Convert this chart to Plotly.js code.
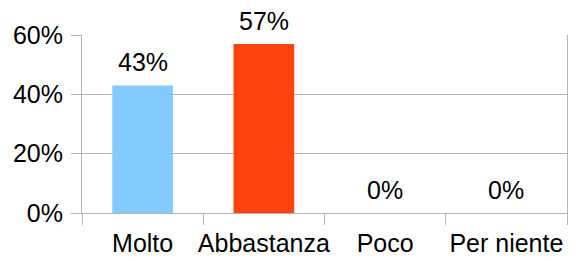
<!DOCTYPE html>
<html>
<head>
<meta charset="utf-8">
<script src="https://cdn.plot.ly/plotly-3.0.1.min.js"></script>
<style>html,body{margin:0;padding:0;background:#fff;}#chart{width:578px;height:261px;}</style>
</head>
<body>
<div id="chart"></div>
<script>
const categories = ["Molto", "Abbastanza", "Poco", "Per niente"];
const values = [0.43, 0.57, 0, 0];
const barColors = ["#83caff", "#ff420e", "#ffd320", "#579d1c"];
const yTickValues = [0, 0.2, 0.4, 0.6];

const gridColor = "#b3b3b3";
const font = {family: "Liberation Sans, Arial, sans-serif", size: 25, color: "#000"};

Plotly.newPlot("chart", [{
  type: "bar",
  x: categories,
  y: values,
  marker: {color: barColors},
  width: 0.5,
  cliponaxis: false,
  hoverinfo: "none"
}], {
  width: 578, height: 261,
  margin: {l: 82, r: 11, t: 35, b: 48, pad: 0},
  paper_bgcolor: "#fff", plot_bgcolor: "#fff",
  font: font,
  showlegend: false,
  annotations: categories.map((c, i) => ({
    x: c, y: values[i], xref: "x", yref: "y",
    text: Math.round(values[i] * 100) + "%",
    showarrow: false, yanchor: "bottom", xanchor: "center",
    yshift: 7, font: font
  })),
  xaxis: {
    type: "category",
    showline: true, linecolor: gridColor, linewidth: 1,
    ticks: "outside", tickson: "boundaries", ticklen: 11, tickcolor: gridColor,
    showgrid: false, zeroline: false,
    tickangle: 0, automargin: false,
    ticklabelstandoff: 8,
    tickfont: font
  },
  yaxis: {
    range: [0, 0.6],
    tickvals: yTickValues, tickformat: ".0%",
    showline: true, mirror: true, linecolor: gridColor, linewidth: 1,
    ticks: "outside", ticklen: 10, tickcolor: gridColor,
    showgrid: true, gridcolor: gridColor, gridwidth: 1,
    zeroline: false, automargin: false,
    ticklabelstandoff: 3,
    tickfont: font
  }
}, {staticPlot: true});
</script>
</body>
</html>
